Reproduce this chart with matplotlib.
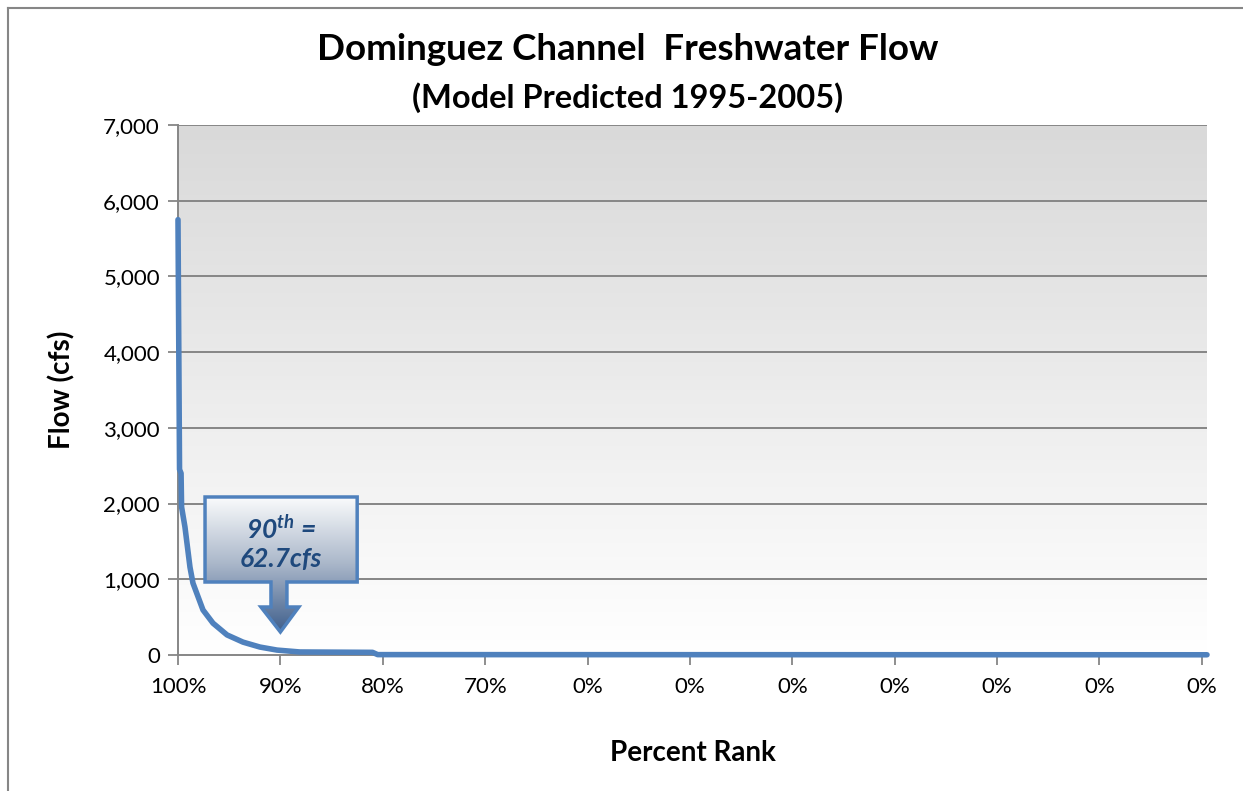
import numpy as np
import matplotlib.pyplot as plt
from matplotlib.patches import Polygon
from matplotlib.lines import Line2D
from matplotlib.colors import LinearSegmentedColormap

plt.rcParams['font.family'] = ['Lato', 'DejaVu Sans']
plt.rcParams['mathtext.fontset'] = 'custom'
plt.rcParams['mathtext.rm'] = 'Lato:bold:italic'
plt.rcParams['mathtext.it'] = 'Lato:bold:italic'

# flow duration curve (x = rank position, tick every 10)
rank_pos = [0.0, 0.0, 0.15, 0.3, 0.35, 0.68, 1.17, 1.46, 2.44, 3.42, 4.79, 6.35,
            8.0, 9.67, 11.9, 19.0, 19.5, 100.5]
flow = [5750, 5750, 2450, 2400, 1955, 1690, 1160, 950, 595, 420, 265, 170,
        105, 65, 40, 35, 5, 3]

tick_pos = [0, 10, 20, 30, 40, 50, 60, 70, 80, 90, 100]
tick_labels = ["100%", "90%", "80%", "70%", "0%", "0%", "0%", "0%", "0%", "0%", "0%"]
y_ticks = [0, 1000, 2000, 3000, 4000, 5000, 6000, 7000]

p90_label = "62.7cfs"

fig = plt.figure(figsize=(12.43, 7.91), dpi=100)
ax = fig.add_axes([178/1243, 1-655/791, (1207-178)/1243, (655-125)/791])

xmax, ymax = 100.5, 7000
ax.set_xlim(0, xmax)
ax.set_ylim(0, ymax)

# gray to white gradient background
bg = LinearSegmentedColormap.from_list('bg', ['#ffffff', '#d9d9d9'])
grad = np.linspace(0, 1, 256).reshape(-1, 1)
ax.imshow(grad, aspect='auto', cmap=bg, origin='lower',
          extent=[0, xmax, 0, ymax], zorder=0)

for v in y_ticks[1:]:
    ax.axhline(v, color='#868686', lw=1.4, zorder=1)

ax.plot(rank_pos, flow, color='#4f81bd', lw=4, solid_capstyle='round',
        solid_joinstyle='round', zorder=3, clip_on=False)

ax.set_xticks(tick_pos)
ax.set_xticklabels(tick_labels, fontsize=16)
ax.set_yticks(y_ticks)
ax.set_yticklabels([f"{v:,}" for v in y_ticks], fontsize=16)
ax.tick_params(axis='both', length=7, width=1.3, color='#868686', pad=6)
ax.tick_params(axis='x', pad=9)
for s in ['top', 'right']:
    ax.spines[s].set_visible(False)
for s in ['left', 'bottom']:
    ax.spines[s].set_color('#868686')
    ax.spines[s].set_linewidth(1.4)
ax.spines['bottom'].set_bounds(0, 100)

ax.set_ylabel("Flow (cfs)", fontsize=20, fontweight='bold', labelpad=20)
ax.set_xlabel("Percent Rank", fontsize=20, fontweight='bold', labelpad=31)

fig.text(628/1243, 1-49/791, "Dominguez Channel  Freshwater Flow", ha='center',
         va='center', fontsize=26.5, fontweight='bold')
fig.text(628/1243, 1-98/791, "(Model Predicted 1995-2005)", ha='center',
         va='center', fontsize=23.5, fontweight='bold')

# callout box with down arrow
bx0, bx1, by0, by1 = 2.64, 17.5, 964, 2087
shape = [(bx0, by1), (bx1, by1), (bx1, by0), (10.64, by0), (10.64, 634),
         (11.8, 634), (10.0, 304), (8.1, 634), (9.08, 634), (9.08, by0),
         (bx0, by0)]
poly = Polygon(shape, closed=True, facecolor='none', edgecolor='#4f81bd',
               lw=2.5, zorder=5)
ax.add_patch(poly)
cg = LinearSegmentedColormap.from_list('cg', ['#3f5f8c', '#a9b6c9', '#fafbfc'])
im = ax.imshow(grad, aspect='auto', cmap=cg, origin='lower',
               extent=[bx0, bx1, 304, by1], zorder=4)
im.set_clip_path(poly)
ax.text((bx0 + bx1) / 2, 1660, r"$\mathrm{90^{th}}$ =", ha='center',
        va='center', fontsize=19, fontweight='bold', style='italic',
        color='#1f497d', zorder=6)
ax.text((bx0 + bx1) / 2, 1270, p90_label, ha='center', va='center',
        fontsize=19, fontweight='bold', style='italic', color='#1f497d', zorder=6)

# chart area border
fig.add_artist(Line2D([8/1243, 1], [1-8/791, 1-8/791], color='#868686', lw=1.5))
fig.add_artist(Line2D([8/1243, 8/1243], [0, 1-8/791], color='#868686', lw=1.5))

fig.savefig("out.png", dpi=100)
